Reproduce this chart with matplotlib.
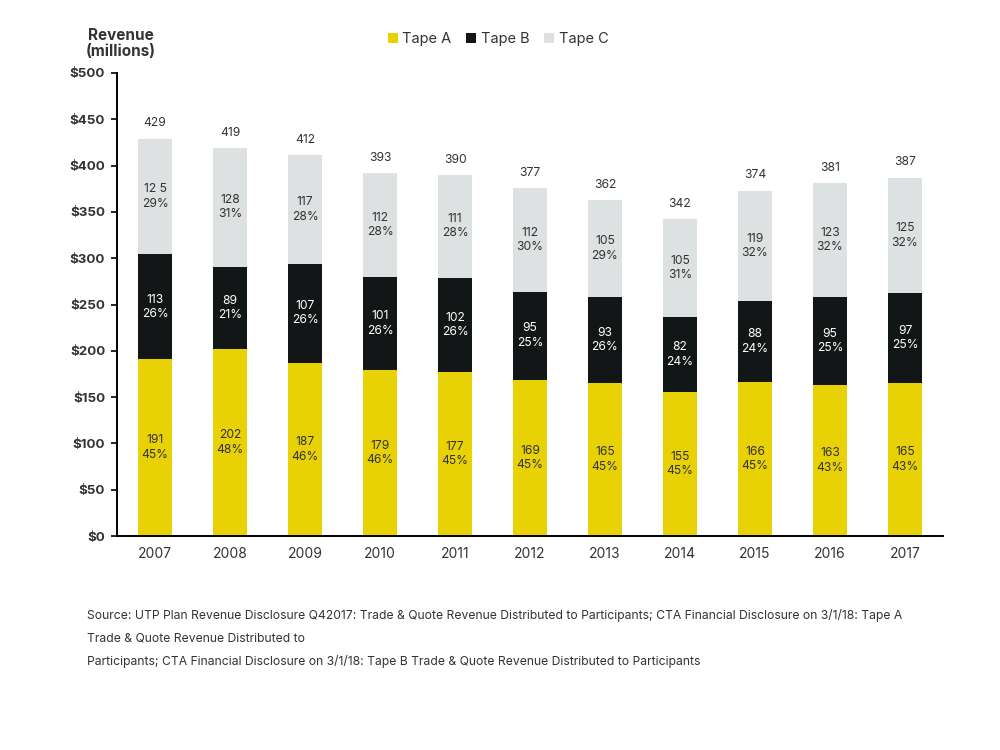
import matplotlib
matplotlib.use('Agg')
import matplotlib.pyplot as plt
import numpy as np

years = ["2007", "2008", "2009", "2010", "2011", "2012", "2013", "2014", "2015", "2016", "2017"]
tape_a = [191, 202, 187, 179, 177, 169, 165, 155, 166, 163, 165]
tape_b = [113, 89, 107, 101, 102, 95, 93, 82, 88, 95, 97]
tape_c = [125, 128, 117, 112, 111, 112, 105, 105, 119, 123, 125]
pct_a = [45, 48, 46, 46, 45, 45, 45, 45, 45, 43, 43]
pct_b = [26, 21, 26, 26, 26, 25, 26, 24, 24, 25, 25]
pct_c = [29, 31, 28, 28, 28, 30, 29, 31, 32, 32, 32]
totals = [429, 419, 412, 393, 390, 377, 362, 342, 374, 381, 387]
# label text as printed on the chart (first one has a stray space)
label_c = ["12 5", "128", "117", "112", "111", "112", "105", "105", "119", "123", "125"]

YELLOW = "#E8D206"
BLACK = "#131616"
GREY = "#DDE1E1"
TEXT = "#333333"

plt.rcParams['font.family'] = ['Inter', 'DejaVu Sans']

fig = plt.figure(figsize=(10, 7.5), dpi=100)
ax = fig.add_axes([0.117, 0.2853, 0.826, 0.6174])

x = np.arange(len(years))
w = 0.45
a = np.array(tape_a)
b = np.array(tape_b)
c = np.array(tape_c)

ax.bar(x, a, w, color=YELLOW, label="Tape A")
ax.bar(x, b, w, bottom=a, color=BLACK, label="Tape B")
ax.bar(x, c, w, bottom=a + b, color=GREY, label="Tape C")

for i in range(len(years)):
    ax.text(x[i], a[i] / 2, "%d\n%d%%" % (tape_a[i], pct_a[i]), ha='center', va='center',
            fontsize=8.7, color=TEXT, linespacing=1.25)
    ax.text(x[i], a[i] + b[i] / 2, "%d\n%d%%" % (tape_b[i], pct_b[i]), ha='center', va='center',
            fontsize=8.7, color='white', linespacing=1.25)
    ax.text(x[i], a[i] + b[i] + c[i] / 2, "%s\n%d%%" % (label_c[i], pct_c[i]), ha='center', va='center',
            fontsize=8.7, color=TEXT, linespacing=1.25)
    ax.text(x[i], a[i] + b[i] + c[i] + 10, str(totals[i]), ha='center', va='bottom',
            fontsize=8.7, color=TEXT)

ax.set_xlim(-0.507, 10.507)
ax.set_ylim(0, 500)
ax.set_yticks(np.arange(0, 501, 50))
ax.set_yticklabels(["$%d" % v for v in range(0, 501, 50)], fontweight='bold', fontsize=9.6, color=TEXT)
ax.set_xticks(x)
ax.set_xticklabels(years, fontsize=10, color=TEXT)
ax.tick_params(axis='x', length=0, pad=8)
ax.tick_params(axis='y', length=4, width=1.2, pad=4.5, color='black')
ax.spines['top'].set_visible(False)
ax.spines['right'].set_visible(False)
ax.spines['left'].set_linewidth(1.4)
ax.spines['bottom'].set_linewidth(1.4)

fig.text(0.121, 0.942, "Revenue\n(millions)", ha='center', va='center', fontsize=11,
         fontweight='bold', color=TEXT, linespacing=1.1)

fig.legend(loc='center', bbox_to_anchor=(0.498, 0.948), ncol=3, frameon=False,
           handlelength=0.7, handleheight=0.7, handletextpad=0.3, columnspacing=1.0,
           fontsize=10.5)
for t in fig.legends[0].get_texts():
    t.set_color(TEXT)

src = ["Source: UTP Plan Revenue Disclosure Q42017: Trade & Quote Revenue Distributed to Participants; CTA Financial Disclosure on 3/1/18: Tape A",
       "Trade & Quote Revenue Distributed to",
       "Participants; CTA Financial Disclosure on 3/1/18: Tape B Trade & Quote Revenue Distributed to Participants"]
for k, line in enumerate(src):
    fig.text(0.087, 1 - (615 + 23.5 * k) / 750, line, ha='left', va='center', fontsize=8.75, color=TEXT)

fig.savefig("out.png", dpi=100, facecolor='white')
